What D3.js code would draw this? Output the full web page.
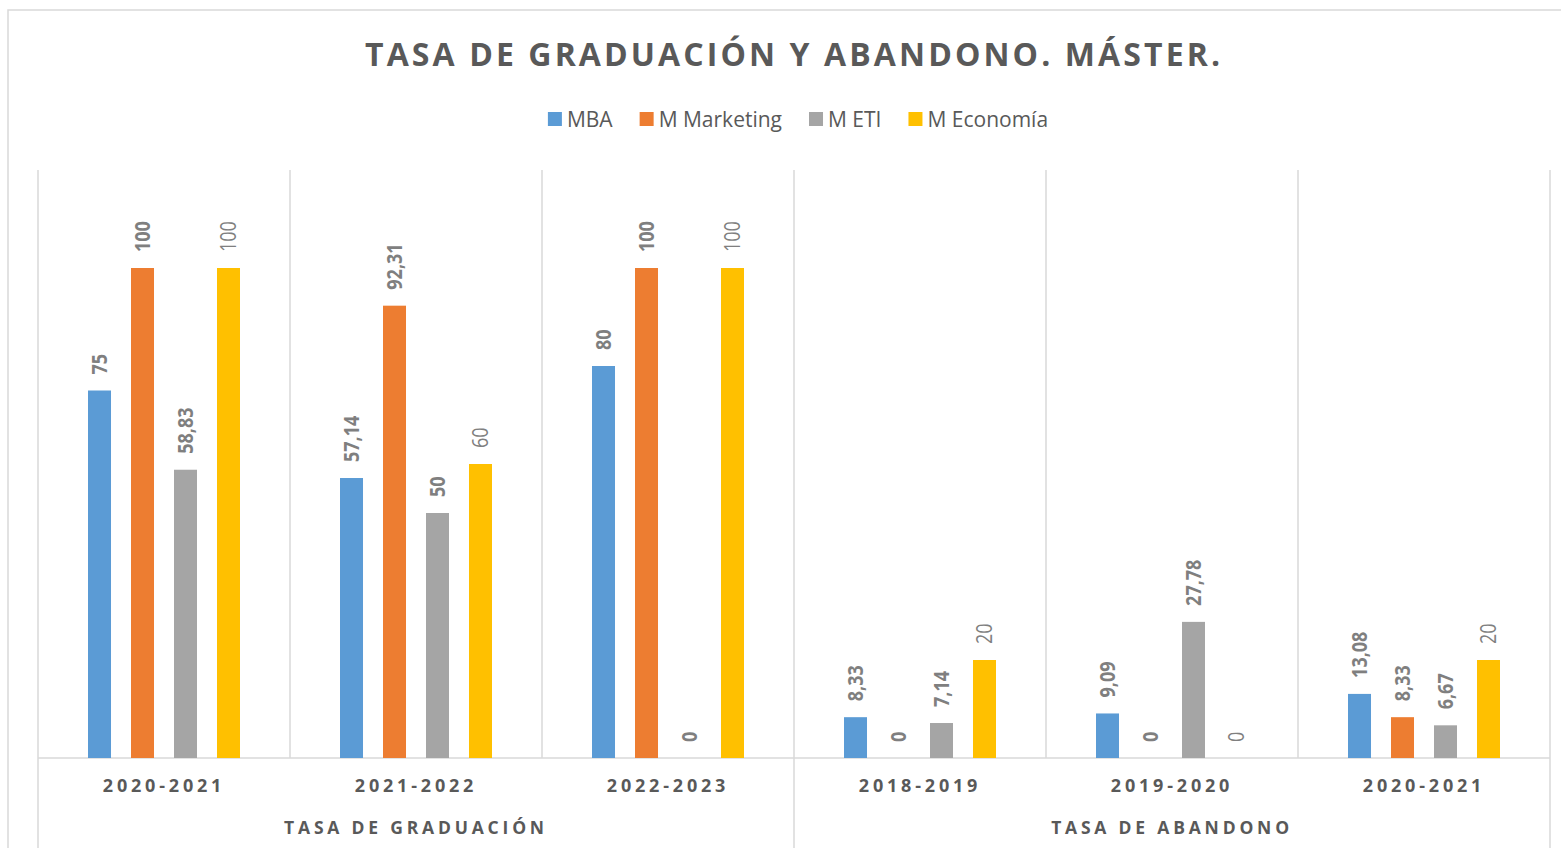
<!DOCTYPE html>
<html>
<head>
<meta charset="utf-8">
<script src="https://cdn.jsdelivr.net/npm/d3@7"></script>
<style>
  body { margin: 0; background: #fff; }
  svg { display: block; font-family: "Open Sans", sans-serif; }
</style>
</head>
<body>
<svg id="chart" width="1561" height="848"></svg>
<script>
// datos
const title = 'TASA DE GRADUACIÓN Y ABANDONO. MÁSTER.'
const groups = ['TASA DE GRADUACIÓN', 'TASA DE ABANDONO']
const years = ['2020-2021', '2021-2022', '2022-2023', '2018-2019', '2019-2020', '2020-2021']
const yearGroup = [0, 0, 0, 1, 1, 1]
const seriesNames = ['MBA', 'M Marketing', 'M ETI', 'M Economía']
const mba = [75, 57.14, 80, 8.33, 9.09, 13.08]
const marketing = [100, 92.31, 100, 0, 0, 8.33]
const eti = [58.83, 50, 0, 7.14, 27.78, 6.67]
const economia = [100, 60, 100, 20, 0, 20]
const seriesValues = [mba, marketing, eti, economia]

const colors = ['#5B9BD5', '#ED7D31', '#A5A5A5', '#FFC000']
const textColor = '#595959'
const gridColor = '#d9d9d9'

const width = 1561, height = 848
const plot = { left: 38, right: 1550, top: 170, bottom: 758 }

const svg = d3.select('#chart')

// borde del gráfico
svg.append('rect')
  .attr('x', 8).attr('y', 10)
  .attr('width', width).attr('height', height)
  .attr('fill', 'none')
  .attr('stroke', gridColor)
  .attr('stroke-width', 1.5)

// escalas
const x = d3.scaleBand()
  .domain(years.map((d, i) => i))
  .range([plot.left, plot.right])
  .padding(0)

const xSub = d3.scaleBand()
  .domain(seriesNames)
  .range([0, x.bandwidth()])
  .paddingInner(0.465)
  .paddingOuter(1.163)

const y = d3.scaleLinear()
  .domain([0, 120])
  .range([plot.bottom, plot.top])

const fmt = d3.formatLocale({ decimal: ',', thousands: '.', grouping: [3], currency: ['', '€'] }).format('.2~f')

// título
svg.append('text')
  .attr('x', 365).attr('y', 66)
  .attr('textLength', 855)
  .attr('lengthAdjust', 'spacing')
  .attr('fill', textColor)
  .style('font-size', '32px')
  .style('font-weight', 700)
  .text(title)

// leyenda
const legend = svg.append('g')
let lx = 0
seriesNames.forEach((name, i) => {
  const item = legend.append('g').attr('transform', `translate(${lx},0)`)
  item.append('rect')
    .attr('x', 0).attr('y', 112)
    .attr('width', 14).attr('height', 14)
    .attr('fill', colors[i])
  const t = item.append('text')
    .attr('x', 19).attr('y', 126.5)
    .attr('fill', textColor)
    .style('font-size', '21px')
    .text(name)
  lx += 19 + t.node().getComputedTextLength() + 27
})
legend.attr('transform', `translate(${798 - (lx - 27) / 2},0)`)

// líneas verticales entre categorías
const bounds = d3.range(years.length + 1).map(i => plot.left + i * x.step())
svg.selectAll('.grid')
  .data(bounds)
  .enter()
  .append('line')
  .attr('x1', d => d).attr('x2', d => d)
  .attr('y1', plot.top)
  .attr('y2', (d, i) => (i === 0 || i === years.length || yearGroup[i] !== yearGroup[i - 1]) ? height : plot.bottom)
  .attr('stroke', gridColor)
  .attr('stroke-width', 1.5)

// eje
svg.append('line')
  .attr('x1', plot.left).attr('x2', plot.right)
  .attr('y1', plot.bottom).attr('y2', plot.bottom)
  .attr('stroke', gridColor)
  .attr('stroke-width', 1.5)

// barras y etiquetas
seriesValues.forEach((vals, s) => {
  const g = svg.append('g')
  g.selectAll('rect')
    .data(vals)
    .enter()
    .append('rect')
    .attr('x', (d, i) => x(i) + xSub(seriesNames[s]))
    .attr('y', d => y(d))
    .attr('width', xSub.bandwidth())
    .attr('height', d => y(0) - y(d))
    .attr('fill', colors[s])

  g.selectAll('text')
    .data(vals)
    .enter()
    .append('text')
    .attr('transform', (d, i) => `translate(${x(i) + xSub(seriesNames[s]) + xSub.bandwidth() / 2},${y(d) - 16}) rotate(-90) scale(1,1.2)`)
    .attr('dy', '0.35em')
    .attr('fill', '#7f7f7f')
    .style('font-size', '18px')
    .style('font-weight', s === 3 ? 400 : 700)
    .text(d => fmt(d))
})

// etiquetas de categoría
svg.selectAll('.year')
  .data(years)
  .enter()
  .append('text')
  .attr('x', (d, i) => x(i) + x.bandwidth() / 2)
  .attr('y', 792)
  .attr('text-anchor', 'middle')
  .attr('fill', textColor)
  .style('font-size', '18px')
  .style('font-weight', 700)
  .style('letter-spacing', '3.8px')
  .text(d => d)

// etiquetas de grupo
svg.selectAll('.group')
  .data(groups)
  .enter()
  .append('text')
  .attr('x', (d, gi) => {
    const idx = yearGroup.map((g, i) => g === gi ? i : -1).filter(i => i >= 0)
    return (x(idx[0]) + x(idx[idx.length - 1]) + x.bandwidth()) / 2
  })
  .attr('y', 834)
  .attr('text-anchor', 'middle')
  .attr('fill', textColor)
  .style('font-size', '17.5px')
  .style('font-weight', 700)
  .style('letter-spacing', '3.8px')
  .text(d => d)
</script>
</body>
</html>
